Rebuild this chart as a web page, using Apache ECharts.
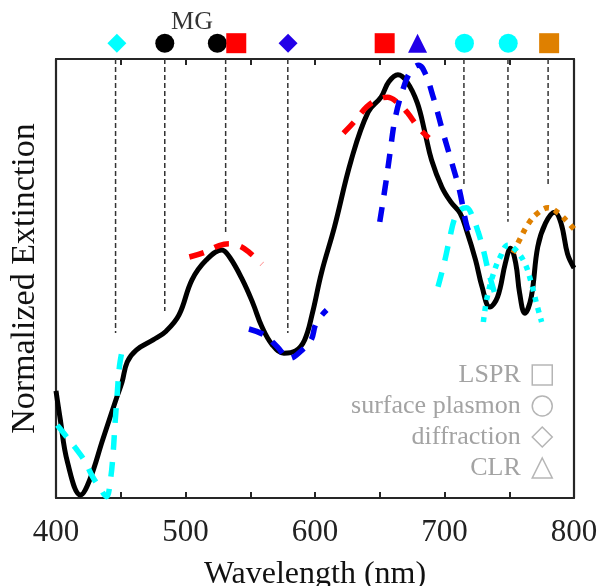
<!DOCTYPE html>
<html><head><meta charset="utf-8">
<script src="https://cdn.jsdelivr.net/npm/echarts@6/dist/echarts.min.js"></script>
<style>html,body{margin:0;padding:0;background:#fff}#c{width:598px;height:586px}</style>
</head><body><div id="c"></div>
<script>
// Measured extinction (black solid)
const measWl  = [400,403,409,419,426,436,447,451,455,462,475,485,495,505,516,528,534,544,552,559,567,576,585,592,598,605,615,628,641,651,657,664,671,679,685,690,698,705,712,717,724,729,735,741,747,751,755,758,762,767,772,778,785,790,795,800];
const measExt = [0.244,0.185,0.080,0.007,0.041,0.132,0.230,0.264,0.310,0.337,0.360,0.380,0.417,0.497,0.542,0.565,0.549,0.497,0.444,0.390,0.349,0.330,0.335,0.360,0.421,0.513,0.617,0.770,0.879,0.913,0.948,0.964,0.948,0.900,0.831,0.770,0.708,0.674,0.649,0.610,0.542,0.481,0.435,0.458,0.535,0.569,0.535,0.467,0.421,0.458,0.572,0.626,0.651,0.626,0.556,0.524];
// Fits
const cyanAWl  = [401,408,415,422,428,434,439,442,444,445.5,447,449,451];
const cyanAExt = [0.166,0.140,0.114,0.085,0.050,0.022,0.003,0.041,0.098,0.166,0.226,0.300,0.335];
const redAWl   = [503,515,526,534,542,549,559];
const redAExt  = [0.549,0.560,0.575,0.579,0.574,0.560,0.533];
const blueAWl  = [549,561,571,580,590,597,601,609];
const blueAExt = [0.385,0.371,0.344,0.318,0.337,0.360,0.399,0.428];
const redBWl   = [622,630,640,648,656,664,671,680,688];
const redBExt  = [0.831,0.856,0.891,0.907,0.913,0.900,0.879,0.843,0.820];
const blueBWl  = [650,655,658,662,668.5,674.5,680,685,691.5,699,705,711.5,717,720];
const blueBExt = [0.629,0.724,0.788,0.866,0.936,0.975,0.986,0.968,0.911,0.831,0.770,0.702,0.622,0.599];
const cyanBWl  = [695,700,704,708,712,717,721.5,726,730,734,738.5];
const cyanBExt = [0.481,0.538,0.592,0.638,0.656,0.661,0.642,0.606,0.565,0.515,0.469];
const cyanCWl  = [730,733,738,743,749,755,762,767,771,775];
const cyanCExt = [0.401,0.458,0.513,0.549,0.576,0.565,0.535,0.490,0.444,0.401];
const orangeWl  = [753,758,765,772,780,788,795,800];
const orangeExt = [0.558,0.588,0.626,0.649,0.661,0.649,0.629,0.613];
// Reference vertical lines
const refWl     = [446,484,531,579,715,749,780];
const refBottom = [0.376,0.426,0.605,0.376,0.713,0.629,0.713];
// Top markers
const markerWl    = [447,484,524.6,539.2,579.2,653.8,679.2,715.4,749.2,780.8];
const markerShape = ['diamond','circle','circle','rect','diamond','rect','triangle','circle','circle','rect'];
const markerColor = ['#00ffff','#000000','#000000','#ff0000','#2200e8','#ff0000','#2200e8','#00ffff','#00ffff','#df8000'];
const markerLevel = 1.036;
const mgWl = 505, mgLevel = 1.084, mgText = 'MG';
// Legend
const legendNames = ['LSPR','surface plasmon','diffraction','CLR'];
const legendIcons = ['rect','circle','diamond','triangle'];
const xTicks = [400,500,600,700,800];

const F = 'Liberation Serif';
const zip = (a,b) => a.map((v,i)=>[v,b[i]]);
const axisLineStyle = {color:'#262626', width:2.2};

const series = [];
refWl.forEach((w,i)=>{
  series.push({type:'line', data:[[w,1],[w,refBottom[i]]], symbol:'none', silent:true, z:1,
    lineStyle:{color:'#333', width:1.5, type:[5,3]}});
});
function fit(wl, ext, color, dash, z){
  return {type:'line', data:zip(wl,ext), symbol:'none', smooth:0.4, silent:true, z:z,
    lineStyle:{color:color, width:5.5, type:dash, cap:'butt'}};
}
const DASH=[15,12], DOT=[5,6];
series.push({type:'line', data:zip(measWl, measExt), symbol:'none', smooth:0.4, silent:true, z:3,
  lineStyle:{color:'#000', width:5}});
series.push(fit(orangeWl, orangeExt, '#df8000', DOT, 4));
series.push(fit(redAWl, redAExt, '#ff0000', DASH, 4));
series.push(fit(redBWl, redBExt, '#ff0000', DASH, 4));
series.push(fit(blueAWl, blueAExt, '#0000f0', DASH, 4));
series.push(fit(blueBWl, blueBExt, '#0000f0', DASH, 4));
series.push(fit(cyanAWl, cyanAExt, '#00ffff', DASH, 4));
series.push(fit(cyanBWl, cyanBExt, '#00ffff', DASH, 4));
series.push(fit(cyanCWl, cyanCExt, '#00ffff', DOT, 4));
series.push({type:'scatter', clip:false, silent:true, z:5,
  data: markerWl.map((w,i)=>({value:[w,markerLevel], symbol:markerShape[i],
    symbolSize: markerShape[i]==='rect'?20:19,
    itemStyle:{color:markerColor[i], opacity:1}}))});
series.push({type:'scatter', clip:false, silent:true, z:5, data:[[mgWl,mgLevel]], symbolSize:0,
  label:{show:true, position:'inside', formatter:mgText, fontSize:26, color:'#000', fontFamily:F}});
legendNames.forEach(n=>series.push({type:'scatter', name:n, data:[]}));

const chart = echarts.init(document.getElementById('c'), null, {renderer:'canvas'});
chart.setOption({
  animation:false,
  backgroundColor:'#fff',
  grid:{left:56, right:24, top:59, bottom:88, outerBoundsMode:'none'},
  legend:{orient:'vertical', right:40, top:357, align:'right', itemWidth:20, itemHeight:20, itemGap:5,
    selectedMode:false, textStyle:{fontSize:26, color:'#a3a3a3', fontFamily:F},
    formatter: n => n + ' ',
    data: legendNames.map((n,i)=>({name:n, icon:legendIcons[i],
      itemStyle:{color:'rgba(0,0,0,0)', borderColor:'#a3a3a3', borderWidth:1.5}}))},
  xAxis:[
    {type:'value', min:400, max:800, interval:50, position:'bottom',
     axisLine:{show:true, onZero:false, lineStyle:axisLineStyle},
     axisTick:{show:true, inside:true, length:6, lineStyle:{color:'#262626', width:2}},
     axisLabel:{margin:19, fontSize:31, color:'#222', fontFamily:F,
       formatter: v => xTicks.includes(v) ? String(v) : ''},
     splitLine:{show:false},
     name:'Wavelength (nm)', nameLocation:'middle', nameGap:61,
     nameTextStyle:{fontSize:32, color:'#111', fontFamily:F}},
    {type:'value', min:400, max:800, interval:50, position:'top',
     axisLine:{show:true, onZero:false, lineStyle:axisLineStyle},
     axisTick:{show:true, inside:true, length:6, lineStyle:{color:'#262626', width:2}},
     axisLabel:{show:false}, splitLine:{show:false}}
  ],
  yAxis:[
    {type:'value', min:0, max:1, position:'left',
     axisLine:{show:true, onZero:false, lineStyle:axisLineStyle},
     axisTick:{show:false}, axisLabel:{show:false}, splitLine:{show:false},
     name:'Normalized Extinction', nameLocation:'middle', nameGap:14,
     nameTextStyle:{fontSize:34, color:'#111', fontFamily:F}},
    {type:'value', min:0, max:1, position:'right',
     axisLine:{show:true, onZero:false, lineStyle:axisLineStyle},
     axisTick:{show:false}, axisLabel:{show:false}, splitLine:{show:false}}
  ],
  series: series
});
</script>
</body></html>
